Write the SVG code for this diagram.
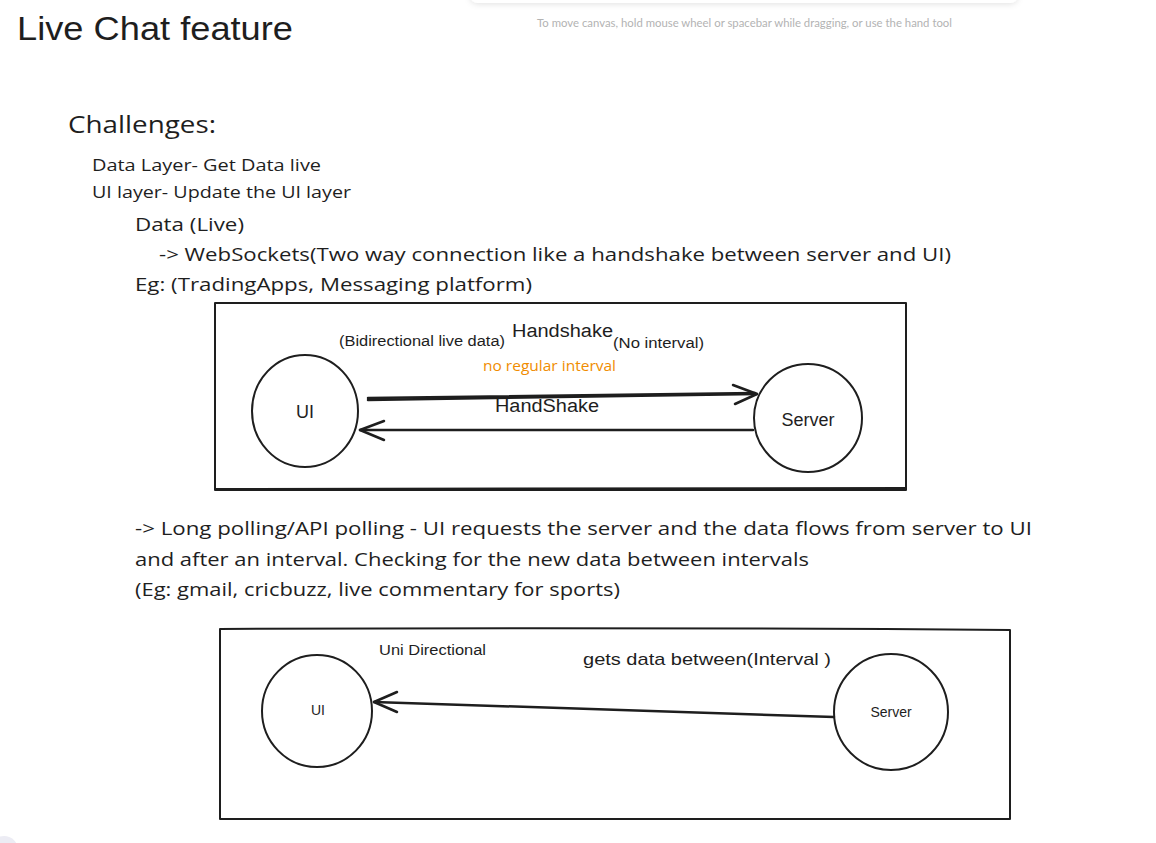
<svg xmlns="http://www.w3.org/2000/svg" width="1156" height="843" viewBox="0 0 1156 843">
<style>
.body{font-family:"Open Sans","Noto Sans",sans-serif;fill:#1e1e1e}
.lbl{font-family:"Liberation Sans","DejaVu Sans",sans-serif;fill:#1e1e1e}
.frame{fill:none;stroke:#1e1e1e;stroke-width:2;stroke-linecap:round;stroke-linejoin:round}
.node{fill:none;stroke:#1e1e1e;stroke-width:2}
.edge{fill:none;stroke:#1e1e1e;stroke-width:2.5;stroke-linecap:round;stroke-linejoin:round}
</style>
<defs>
<filter id="sh" x="-10%" y="-100%" width="120%" height="300%">
<feDropShadow dx="0" dy="1" stdDeviation="3" flood-color="#000" flood-opacity="0.12"/>
</filter>
</defs>
<rect x="0" y="0" width="1156" height="843" fill="#ffffff"/>
<rect x="470" y="-20" width="548" height="23" rx="8" fill="#ffffff" filter="url(#sh)"/>
<circle cx="4" cy="850" r="14" fill="#ececf4"/>
<text x="17" y="40" class="lbl" font-size="34" textLength="276" lengthAdjust="spacingAndGlyphs">Live Chat feature</text>
<text x="537" y="27" font-family="Lato,'Open Sans',sans-serif" font-size="10.5" fill="#b3b3b3" textLength="415" lengthAdjust="spacingAndGlyphs">To move canvas, hold mouse wheel or spacebar while dragging, or use the hand tool</text>
<text x="68" y="133" class="body" font-size="24" textLength="148" lengthAdjust="spacingAndGlyphs">Challenges:</text>
<text x="92" y="171" class="body" font-size="16" textLength="229" lengthAdjust="spacingAndGlyphs">Data Layer- Get Data live</text>
<text x="92" y="198" class="body" font-size="16" textLength="259" lengthAdjust="spacingAndGlyphs">UI layer- Update the UI layer</text>
<text x="135" y="231" class="body" font-size="19" textLength="109" lengthAdjust="spacingAndGlyphs">Data (Live)</text>
<text x="159" y="261" class="body" font-size="19" textLength="792" lengthAdjust="spacingAndGlyphs">-&gt; WebSockets(Two way connection like a handshake between server and UI)</text>
<text x="135" y="291" class="body" font-size="19" textLength="397" lengthAdjust="spacingAndGlyphs">Eg: (TradingApps, Messaging platform)</text>
<text x="135" y="535" class="body" font-size="19" textLength="897" lengthAdjust="spacingAndGlyphs">-&gt; Long polling/API polling - UI requests the server and the data flows from server to UI</text>
<text x="135" y="566" class="body" font-size="19" textLength="674" lengthAdjust="spacingAndGlyphs">and after an interval. Checking for the new data between intervals</text>
<text x="135" y="596" class="body" font-size="19" textLength="485" lengthAdjust="spacingAndGlyphs">(Eg: gmail, cricbuzz, live commentary for sports)</text>
<g id="frame1">
<path class="frame" d="M215 303 L906 303 L906 490 L215 490 Z"/>
<path class="frame" d="M216 489 Q560 487 905 488" stroke-width="1.2"/>
</g>
<g id="frame2">
<path class="frame" d="M220 629 Q615 627 1010 630 L1010 819 L220 819 Z"/>
</g>
<g id="ui1">
<ellipse class="node" cx="305" cy="411" rx="53" ry="56"/>
<text x="305" y="418" class="lbl" font-size="18" text-anchor="middle">UI</text>
</g>
<g id="server1">
<ellipse class="node" cx="808" cy="418" rx="54" ry="54"/>
<text x="808" y="426" class="lbl" font-size="18" text-anchor="middle">Server</text>
</g>
<g id="ui2">
<ellipse class="node" cx="317" cy="711" rx="55" ry="56"/>
<text x="318" y="715" class="lbl" font-size="14" text-anchor="middle">UI</text>
</g>
<g id="server2">
<ellipse class="node" cx="891" cy="712" rx="57" ry="58"/>
<text x="891" y="717" class="lbl" font-size="14" text-anchor="middle">Server</text>
</g>
<g id="connectors">
<path class="edge" d="M368 400 L757 394"/>
<path class="edge" d="M368 398 L755 393" stroke-width="1"/>
<path class="edge" d="M733 385 L757 394 L735 404"/>
<path class="edge" d="M753 430 L360 430"/>
<path class="edge" d="M384 421 L360 430 L384 440"/>
<path class="edge" d="M834 717 L374 702"/>
<path class="edge" d="M397 692 L374 702 L397 712"/>
</g>
<g id="labels">
<text x="339" y="346" class="lbl" font-size="14" textLength="166" lengthAdjust="spacingAndGlyphs">(Bidirectional live data)</text>
<text x="512" y="337" class="lbl" font-size="18" textLength="101" lengthAdjust="spacingAndGlyphs">Handshake</text>
<text x="613" y="348" class="lbl" font-size="14" textLength="91" lengthAdjust="spacingAndGlyphs">(No interval)</text>
<text x="483" y="371" font-family="'Open Sans','Noto Sans',sans-serif" font-size="14" fill="#f08c00" textLength="133" lengthAdjust="spacingAndGlyphs">no regular interval</text>
<text x="495" y="412" class="lbl" font-size="18" textLength="104" lengthAdjust="spacingAndGlyphs">HandShake</text>
<text x="379" y="655" class="lbl" font-size="14" textLength="107" lengthAdjust="spacingAndGlyphs">Uni Directional</text>
<text x="583" y="665" class="lbl" font-size="17" textLength="248" lengthAdjust="spacingAndGlyphs">gets data between(Interval )</text>
</g>
</svg>
